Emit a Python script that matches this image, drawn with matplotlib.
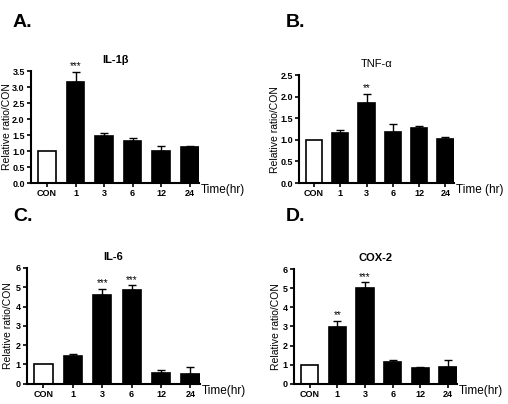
import matplotlib as mpl
from matplotlib import pyplot as plt
import numpy as np

mpl.rcParams["font.family"] = ["Liberation Sans", "DejaVu Sans"]

groups = ["CON", "1", "3", "6", "12", "24"]

il1b = [1.0, 3.15, 1.47, 1.32, 1.0, 1.12]
il1b_err = [0.0, 0.33, 0.09, 0.09, 0.15, 0.04]
il1b_stars = ["", "***", "", "", "", ""]

tnfa = [1.0, 1.15, 1.85, 1.18, 1.28, 1.03]
tnfa_err = [0.0, 0.08, 0.22, 0.19, 0.03, 0.03]
tnfa_stars = ["", "", "**", "", "", ""]

il6 = [1.0, 1.42, 4.6, 4.85, 0.57, 0.53]
il6_err = [0.0, 0.13, 0.33, 0.25, 0.13, 0.33]
il6_stars = ["", "", "***", "***", "", ""]

cox2 = [1.0, 2.98, 5.0, 1.15, 0.85, 0.9]
cox2_err = [0.0, 0.33, 0.3, 0.1, 0.05, 0.33]
cox2_stars = ["", "**", "***", "", "", ""]

panels = [
    ("A.", "IL-1β", "bold", il1b, il1b_err, il1b_stars, 3.5, np.arange(0, 3.51, 0.5), "%.1f", "Time(hr)",
     [0.061, 0.547, 0.331, 0.277], -0.113, (0.024, 0.945)),
    ("B.", "TNF-α", "normal", tnfa, tnfa_err, tnfa_stars, 2.5, np.arange(0, 2.51, 0.5), "%.1f", "Time (hr)",
     [0.589, 0.547, 0.305, 0.267], -0.123, (0.563, 0.945)),
    ("C.", "IL-6", "bold", il6, il6_err, il6_stars, 6, np.arange(0, 7, 1), "%d", "Time(hr)",
     [0.053, 0.050, 0.341, 0.287], -0.081, (0.026, 0.463)),
    ("D.", "COX-2", "bold", cox2, cox2_err, cox2_stars, 6, np.arange(0, 7, 1), "%d", "Time(hr)",
     [0.579, 0.050, 0.321, 0.284], -0.08, (0.563, 0.463)),
]

fig = plt.figure(figsize=(5.08, 4.04), dpi=100)

for letter, title, tw, vals, errs, stars, ymax, yticks, fmt, xlab, rect, ylx, lpos in panels:
    ax = fig.add_axes(rect)
    x = np.arange(len(groups))
    colors = ["white"] + ["black"] * (len(groups) - 1)
    ax.bar(x, vals, width=0.62, color=colors, edgecolor="black", linewidth=1.2, zorder=2)
    # upper error bars only, prism style
    ax.errorbar(x[1:], vals[1:], yerr=[np.zeros(len(x) - 1), errs[1:]], fmt="none",
                ecolor="black", elinewidth=1.0, capsize=3, capthick=1.0, zorder=3)
    for xi, v, e, s in zip(x, vals, errs, stars):
        if s:
            ax.text(xi, v + e + ymax * 0.005, s, ha="center", va="bottom", fontsize=7)

    ax.set_xlim(-0.56, 5.33)
    ax.set_ylim(0, ymax)
    ax.set_yticks(yticks)
    ax.set_yticklabels([fmt % t for t in yticks], fontsize=6.5, fontweight="bold")
    ax.set_xticks(x)
    ax.set_xticklabels(groups, fontsize=6.5, fontweight="bold")
    ax.tick_params(axis="both", length=3, width=1.2, pad=1.5)
    for side in ["top", "right"]:
        ax.spines[side].set_visible(False)
    for side in ["left", "bottom"]:
        ax.spines[side].set_linewidth(1.5)
    ax.set_ylabel("Relative ratio/CON", fontsize=7.5)
    ax.yaxis.set_label_coords(ylx, 0.5)
    ax.set_title(title, fontsize=8, fontweight=tw, pad=6)
    ax.text(1.01, -0.01, xlab, transform=ax.transAxes, ha="left", va="top", fontsize=8.5)
    fig.text(lpos[0], lpos[1], letter, fontsize=14, fontweight="bold", va="center")

plt.savefig("out.png", dpi=100)
